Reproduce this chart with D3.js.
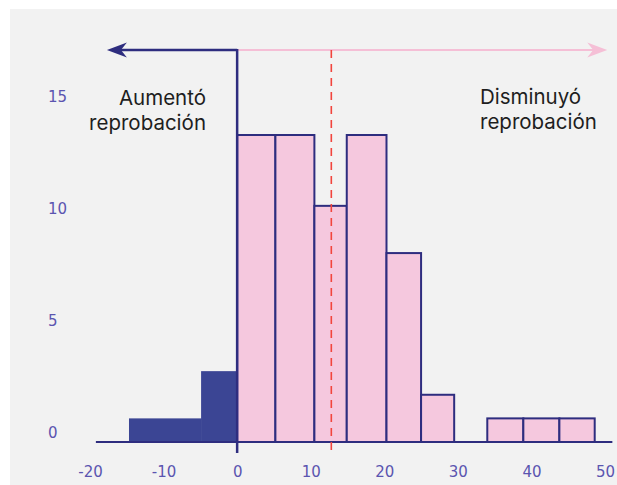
<!DOCTYPE html>
<html>
<head>
<meta charset="utf-8">
<script src="https://cdn.jsdelivr.net/npm/d3@7"></script>
<style>
    body { margin: 0; background: #fff; }
    .tick-label { font-family: "DejaVu Sans", sans-serif; font-size: 15px; fill: #5b55b0; }
    .note { font-family: Inter, sans-serif; font-size: 20.5px; fill: #1e1e1e; }
</style>
</head>
<body>
<svg id="svg"></svg>
<script>
// Histogram data: bin edges and counts
const binStart = [-14.7, -4.9, 0, 5.2, 10.5, 14.9, 20.3, 25.0, 34.0, 38.9, 43.8];
const binEnd   = [-4.9, 0, 5.2, 10.5, 14.9, 20.3, 25.0, 29.5, 38.9, 43.8, 48.6];
const counts   = [1, 3, 13, 13, 10, 13, 8, 2, 1, 1, 1];
const xTicks = [-20, -10, 0, 10, 20, 30, 40, 50];
const yTicks = [0, 5, 10, 15];
const meanValue = 12.8;
const leftNote = ["Aumentó", "reprobación"];
const rightNote = ["Disminuyó", "reprobación"];

const width = 617, height = 485;
const navy = "#2e2d7f", darkFill = "#3b4594", pinkFill = "#f5c8de", pinkLine = "#f5bfd6";

const svg = d3.select("#svg").attr("width", width).attr("height", height);

// Panel background
svg.append("rect")
    .attr("x", 10).attr("y", 9)
    .attr("width", width - 10).attr("height", height - 9)
    .attr("fill", "#f2f2f2");

const x = d3.scaleLinear().domain([-20, 50]).range([90, 605]);
const y = d3.scaleLinear().domain([0, 13]).range([442, 135]);
// tick labels sit on their own slightly compressed scale in the original
const yLab = d3.scaleLinear().domain([0, 15]).range([433, 97]);

const bins = counts.map((c, i) => ({ x0: binStart[i], x1: binEnd[i], n: c }));

// Negative bins: solid navy, no outline
svg.append("g").selectAll("rect")
    .data(bins.filter(d => d.x1 <= 0))
    .join("rect")
    .attr("x", d => x(d.x0))
    .attr("y", d => y(d.n))
    .attr("width", d => x(d.x1) - x(d.x0) + 0.5)
    .attr("height", d => y(0) - y(d.n))
    .attr("fill", darkFill);

// Positive bins: pink with navy outline
svg.append("g").selectAll("rect")
    .data(bins.filter(d => d.x0 >= 0))
    .join("rect")
    .attr("x", d => x(d.x0))
    .attr("y", d => y(d.n))
    .attr("width", d => x(d.x1) - x(d.x0))
    .attr("height", d => y(0) - y(d.n))
    .attr("fill", pinkFill)
    .attr("stroke", navy)
    .attr("stroke-width", 2);

// Baseline
svg.append("line")
    .attr("x1", x(-19.2)).attr("x2", x(51.0))
    .attr("y1", y(0)).attr("y2", y(0))
    .attr("stroke", navy).attr("stroke-width", 2);

const arrowY = y(16.6);

// Pink arrow to the right
svg.append("line")
    .attr("x1", x(0)).attr("x2", x(49.5))
    .attr("y1", arrowY).attr("y2", arrowY)
    .attr("stroke", pinkLine).attr("stroke-width", 2);
const pTip = x(50.3);
svg.append("path")
    .attr("d", `M${pTip},${arrowY} L${pTip - 20},${arrowY - 7.5} L${pTip - 14},${arrowY} L${pTip - 20},${arrowY + 7.5} Z`)
    .attr("fill", pinkLine);

// Navy arrow to the left
svg.append("line")
    .attr("x1", x(0)).attr("x2", x(-17))
    .attr("y1", arrowY).attr("y2", arrowY)
    .attr("stroke", navy).attr("stroke-width", 2.5);
const nTip = x(-17.7);
svg.append("path")
    .attr("d", `M${nTip},${arrowY} L${nTip + 20},${arrowY - 7.5} L${nTip + 14},${arrowY} L${nTip + 20},${arrowY + 7.5} Z`)
    .attr("fill", navy);

// Zero line
svg.append("line")
    .attr("x1", x(0)).attr("x2", x(0))
    .attr("y1", arrowY - 1).attr("y2", y(0) + 11)
    .attr("stroke", navy).attr("stroke-width", 2.5);

// Mean (dashed red)
svg.append("line")
    .attr("x1", x(meanValue)).attr("x2", x(meanValue))
    .attr("y1", arrowY).attr("y2", y(0) + 11)
    .attr("stroke", "#f2453d").attr("stroke-width", 1.6)
    .attr("stroke-dasharray", "8,6");

// X axis labels (plain hyphen for negatives, as in the original)
const xAxis = svg.append("g")
    .attr("transform", `translate(0,${y(0)})`)
    .call(d3.axisBottom(x).tickValues(xTicks).tickSize(0).tickPadding(24).tickFormat(d => String(d)));
xAxis.select(".domain").remove();
xAxis.selectAll("text").attr("class", "tick-label").attr("font-family", null).attr("font-size", null);

// Y axis labels (left aligned)
const yAxis = svg.append("g")
    .attr("transform", "translate(48,0)")
    .call(d3.axisLeft(yLab).tickValues(yTicks).tickSize(0).tickPadding(0));
yAxis.select(".domain").remove();
yAxis.selectAll("text")
    .attr("class", "tick-label").attr("font-family", null).attr("font-size", null)
    .attr("text-anchor", "start").attr("x", 0);

// Annotations
const lt = svg.append("text").attr("class", "note").attr("text-anchor", "end");
leftNote.forEach((s, i) => lt.append("tspan").attr("x", 206).attr("y", 105 + i * 25).text(s));
const rt = svg.append("text").attr("class", "note");
rightNote.forEach((s, i) => rt.append("tspan").attr("x", 480).attr("y", 104 + i * 25).text(s));
</script>
</body>
</html>
